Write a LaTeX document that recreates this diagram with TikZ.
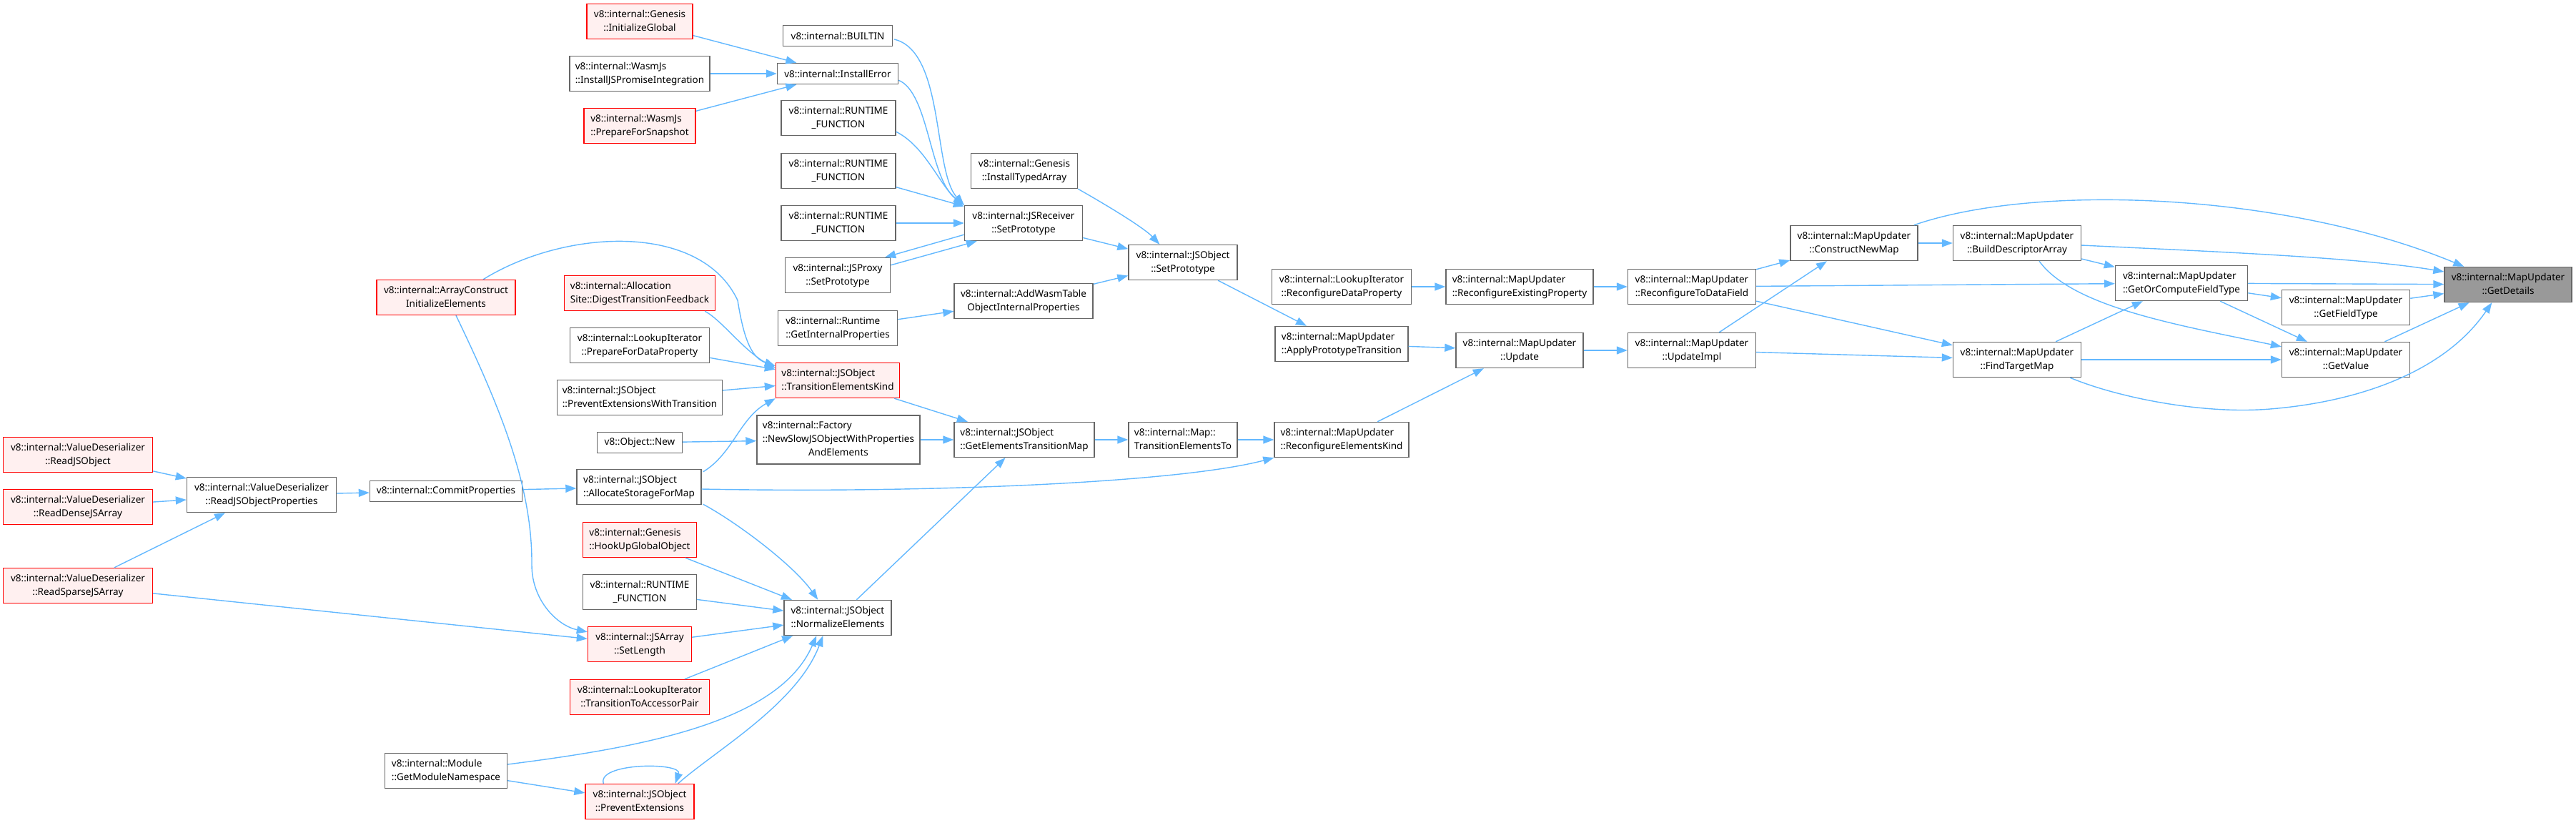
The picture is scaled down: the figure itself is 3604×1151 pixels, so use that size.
\documentclass[tikz,border=0pt]{standalone}
\usepackage{fontspec}
\setmainfont{Noto Sans}
\usetikzlibrary{arrows.meta,calc}
\definecolor{callblue}{RGB}{99,184,255}
\definecolor{boxline}{RGB}{102,102,102}
\definecolor{rootgray}{RGB}{153,153,153}
\definecolor{redfill}{RGB}{255,240,240}
\definecolor{redline}{RGB}{255,0,0}
\newcommand{\fnl}[2]{\begin{tabular}{@{}l@{}}#1\\\multicolumn{1}{@{}c@{}}{#2}\end{tabular}}

\begin{document}
\begin{tikzpicture}[x=1pt,y=-1pt,>={Triangle[length=15pt,width=11pt]},
    fn/.style={draw=boxline,fill=white,line width=1.4pt,inner xsep=4pt,inner ysep=2pt,minimum height=49pt,font=\fontsize{13.5}{19}\selectfont},
    fnone/.style={fn,minimum height=29pt},
    fnred/.style={fn,draw=redline,fill=redfill},
    fnroot/.style={fn,fill=rootgray},
    call/.style={->,draw=callblue,line width=1.4pt}]
  \useasboundingbox (0,0) rectangle (3604,1151);
  \node[fnred,minimum width=209pt] (rdObj) at (109,636) {\fnl{v8::internal::ValueDeserializer}{::ReadJSObject}};
  \node[fnred,minimum width=209pt] (rdDense) at (109,709) {\fnl{v8::internal::ValueDeserializer}{::ReadDenseJSArray}};
  \node[fnred,minimum width=209pt] (rdSparse) at (109,819) {\fnl{v8::internal::ValueDeserializer}{::ReadSparseJSArray}};
  \node[fn,minimum width=209pt] (rdProps) at (366,692) {\fnl{v8::internal::ValueDeserializer}{::ReadJSObjectProperties}};
  \node[fnred,minimum width=194pt] (arrCons) at (624,416) {\fnl{v8::internal::ArrayConstruct}{InitializeElements}};
  \node[fnone,minimum width=213pt] (commit) at (624,687) {v8::internal::CommitProperties};
  \node[fn,minimum width=171pt] (modNs) at (624,1078) {\fnl{v8::internal::Module}{::GetModuleNamespace}};
  \node[fnred,minimum width=148pt] (initGlobal) at (895,30) {\fnl{v8::internal::Genesis}{::InitializeGlobal}};
  \node[fn,minimum width=196pt] (promInt) at (895,103) {\fnl{v8::internal::WasmJs}{::InstallJSPromiseIntegration}};
  \node[fnred,minimum width=156pt] (prepSnap) at (895,176) {\fnl{v8::internal::WasmJs}{::PrepareForSnapshot}};
  \node[fnred,minimum width=211pt] (allocSite) at (895,410) {\fnl{v8::internal::Allocation}{Site::DigestTransitionFeedback}};
  \node[fn,minimum width=195pt] (prepData) at (895,483) {\fnl{v8::internal::LookupIterator}{::PrepareForDataProperty}};
  \node[fn,minimum width=231pt] (prevExtT) at (895,556) {\fnl{v8::internal::JSObject}{::PreventExtensionsWithTransition}};
  \node[fnone,minimum width=119pt] (objNew) at (895,619) {v8::Object::New};
  \node[fn,minimum width=174pt] (allocStore) at (894,681) {\fnl{v8::internal::JSObject}{::AllocateStorageForMap}};
  \node[fnred,minimum width=159pt] (hookUp) at (895,755) {\fnl{v8::internal::Genesis}{::HookUpGlobalObject}};
  \node[fn,minimum width=159pt] (rf4) at (895,828) {\fnl{v8::internal::RUNTIME}{\_FUNCTION}};
  \node[fnred,minimum width=145pt] (setLen) at (895,901) {\fnl{v8::internal::JSArray}{::SetLength}};
  \node[fnred,minimum width=195pt] (toAcc) at (895,975) {\fnl{v8::internal::LookupIterator}{::TransitionToAccessorPair}};
  \node[fnred,minimum width=152pt] (prevExt) at (895,1121) {\fnl{v8::internal::JSObject}{::PreventExtensions}};
  \node[fnone,minimum width=153pt] (builtin) at (1172,50) {v8::internal::BUILTIN};
  \node[fnone,minimum width=169pt] (instErr) at (1172,103) {v8::internal::InstallError};
  \node[fn,minimum width=160pt] (rf1) at (1173,165) {\fnl{v8::internal::RUNTIME}{\_FUNCTION}};
  \node[fn,minimum width=160pt] (rf2) at (1173,239) {\fnl{v8::internal::RUNTIME}{\_FUNCTION}};
  \node[fn,minimum width=160pt] (rf3) at (1173,312) {\fnl{v8::internal::RUNTIME}{\_FUNCTION}};
  \node[fn,minimum width=147pt] (proxySet) at (1172,385) {\fnl{v8::internal::JSProxy}{::SetPrototype}};
  \node[fn,minimum width=167pt] (getIntProps) at (1172,459) {\fnl{v8::internal::Runtime}{::GetInternalProperties}};
  \node[fnred,minimum width=173pt] (transKind) at (1172,532) {\fnl{v8::internal::JSObject}{::TransitionElementsKind}};
  \node[fn,minimum width=228pt,minimum height=68pt] (factory) at (1173,615) {\fnl{v8::internal::Factory\\::NewSlowJSObjectWithProperties}{AndElements}};
  \node[fn,minimum width=150pt] (normElem) at (1172,864) {\fnl{v8::internal::JSObject}{::NormalizeElements}};
  \node[fn,minimum width=149pt] (typedArr) at (1433,239) {\fnl{v8::internal::Genesis}{::InstallTypedArray}};
  \node[fn,minimum width=165pt] (recvSet) at (1432,312) {\fnl{v8::internal::JSReceiver}{::SetPrototype}};
  \node[fn,minimum width=194pt] (addWasm) at (1432,421) {\fnl{v8::internal::AddWasmTable}{ObjectInternalProperties}};
  \node[fn,minimum width=196pt] (getElemMap) at (1433,615) {\fnl{v8::internal::JSObject}{::GetElementsTransitionMap}};
  \node[fn,minimum width=152pt] (objSet) at (1655,367) {\fnl{v8::internal::JSObject}{::SetPrototype}};
  \node[fn,minimum width=152pt] (mapTrans) at (1655,615) {\fnl{v8::internal::Map::}{TransitionElementsTo}};
  \node[fn,minimum width=195pt] (reconfData) at (1877,401) {\fnl{v8::internal::LookupIterator}{::ReconfigureDataProperty}};
  \node[fn,minimum width=186pt] (applyProto) at (1877,481) {\fnl{v8::internal::MapUpdater}{::ApplyPrototypeTransition}};
  \node[fn,minimum width=188pt] (reconfElem) at (1877,615) {\fnl{v8::internal::MapUpdater}{::ReconfigureElementsKind}};
  \node[fn,minimum width=206pt] (reconfExist) at (2126,401) {\fnl{v8::internal::MapUpdater}{::ReconfigureExistingProperty}};
  \node[fn,minimum width=178pt] (update) at (2126,490) {\fnl{v8::internal::MapUpdater}{::Update}};
  \node[fn,minimum width=179pt] (toDataField) at (2367,401) {\fnl{v8::internal::MapUpdater}{::ReconfigureToDataField}};
  \node[fn,minimum width=179pt] (updImpl) at (2367,490) {\fnl{v8::internal::MapUpdater}{::UpdateImpl}};
  \node[fn,minimum width=178pt] (constructMap) at (2594,340) {\fnl{v8::internal::MapUpdater}{::ConstructNewMap}};
  \node[fn,minimum width=179pt] (buildDesc) at (2822,340) {\fnl{v8::internal::MapUpdater}{::BuildDescriptorArray}};
  \node[fn,minimum width=179pt] (findTarget) at (2822,503) {\fnl{v8::internal::MapUpdater}{::FindTargetMap}};
  \node[fn,minimum width=185pt] (getOrCompute) at (3052,396) {\fnl{v8::internal::MapUpdater}{::GetOrComputeFieldType}};
  \node[fn,minimum width=179pt] (getFieldType) at (3282,430) {\fnl{v8::internal::MapUpdater}{::GetFieldType}};
  \node[fn,minimum width=179pt] (getValue) at (3282,503) {\fnl{v8::internal::MapUpdater}{::GetValue}};
  \node[fnroot,minimum width=178pt] (getDetails) at (3509,398) {\fnl{v8::internal::MapUpdater}{::GetDetails}};

  \draw[call] (initGlobal)--(instErr); \draw[call] (promInt)--(instErr); \draw[call] (prepSnap)--(instErr);
  \draw[call] ($(builtin.east)+(2,5)$) .. controls (1322,72) and (1305,240) .. (recvSet.north west);
  \draw[call] ($(instErr.south east)+(0,-6)$) .. controls (1300,130) and (1300,250) .. (recvSet.north west);
  \draw[call] ($(rf1.south east)+(0,-6)$) .. controls (1295,205) and (1315,260) .. (recvSet.north west);
  \draw[call] (rf2)--(recvSet); \draw[call] (rf3)--(recvSet);
  \draw[call] ($(recvSet.south west)+(0,-9)$)--($(proxySet.north east)+(-8,0)$);
  \draw[call] ($(proxySet.north east)+(0,11)$)--($(recvSet.south west)+(18,0)$);
  \draw[call] (recvSet)--(objSet); \draw[call] (addWasm)--(objSet); \draw[call] (getIntProps)--(addWasm);
  \draw[call] (typedArr.south east) .. controls (1545,285) and (1600,318) .. ($(objSet.north west)+(44,0)$);
  \draw[call] (objSet)--(applyProto);
  \draw[call] ($(arrCons.north)+(52,0)$) .. controls (790,320) and (980,310) .. (1032,420) .. controls (1040,470) and (1050,500) .. ($(transKind.north west)+(0,5)$);
  \draw[call] ($(allocSite.south east)+(-15,0)$) .. controls (1010,448) and (1040,490) .. ($(transKind.north west)+(0,8)$);
  \draw[call] (prepData)--(transKind); \draw[call] (prevExtT)--(transKind);
  \draw[call] ($(allocStore.north east)+(2,4)$) .. controls (1025,635) and (1035,585) .. (transKind.south west);
  \draw[call] (transKind)--(getElemMap); \draw[call] (objNew)--(factory); \draw[call] (factory)--(getElemMap);
  \draw[call] (getElemMap)--(mapTrans); \draw[call] (mapTrans)--(reconfElem); \draw[call] (normElem)--(getElemMap);
  \draw[call] ($(allocStore.east)+(0,3)$) .. controls (1300,690) and (1650,675) .. (reconfElem.south west);
  \draw[call] (rdObj)--(rdProps); \draw[call] (rdDense)--(rdProps); \draw[call] (rdSparse)--(rdProps);
  \draw[call] (rdSparse)--(setLen); \draw[call] (rdProps)--(commit); \draw[call] (commit)--(allocStore);
  \draw[call] ($(arrCons.south)+(14,0)$) .. controls (700,570) and (745,680) .. (744,790) .. controls (744,840) and (780,875) .. ($(setLen.north west)+(0,8)$);
  \draw[call] ($(allocStore.south east)+(2,-1)$) .. controls (1030,730) and (1110,790) .. ($(normElem.north west)+(48,0)$);
  \draw[call] (hookUp)--(normElem); \draw[call] (rf4)--(normElem); \draw[call] (setLen)--(normElem); \draw[call] (toAcc)--(normElem);
  \draw[call] ($(modNs.east)+(0,-9)$) .. controls (900,1045) and (1090,1010) .. ($(normElem.south west)+(46,0)$);
  \draw[call] (modNs)--(prevExt);
  \draw[call] ($(prevExt.north west)+(26,0)$) .. controls (835,1066) and (955,1066) .. ($(prevExt.north east)+(-27,0)$);
  \draw[call] ($(prevExt.north east)+(-23,0)$) .. controls (1000,1050) and (1115,985) .. ($(normElem.south west)+(55,0)$);
  \draw[call] (reconfData)--(reconfExist); \draw[call] (reconfExist)--(toDataField);
  \draw[call] (applyProto)--(update); \draw[call] (reconfElem)--(update); \draw[call] (update)--(updImpl);
  \draw[call] (toDataField)--(constructMap); \draw[call] (updImpl)--(constructMap);
  \draw[call] (toDataField)--(getOrCompute); \draw[call] (toDataField)--(findTarget); \draw[call] (updImpl)--(findTarget);
  \draw[call] (constructMap)--(buildDesc);
  \draw[call] ($(constructMap.north east)+(-6,0)$) .. controls (2850,255) and (3200,270) .. ($(getDetails.north west)+(28,0)$);
  \draw[call] ($(buildDesc.east)+(0,3)$) .. controls (3100,352) and (3300,360) .. ($(getDetails.west)+(0,-18)$);
  \draw[call] (buildDesc)--(getOrCompute);
  \draw[call] ($(buildDesc.south)+(31,0)$) .. controls (2900,430) and (3050,455) .. ($(getValue.north west)+(0,7)$);
  \draw[call] (getOrCompute)--(getDetails); \draw[call] (getOrCompute)--(getFieldType); \draw[call] (getOrCompute)--(getValue);
  \draw[call] (getFieldType)--(getDetails); \draw[call] (getValue)--(getDetails);
  \draw[call] (findTarget)--(getOrCompute); \draw[call] (findTarget)--(getValue);
  \draw[call] ($(findTarget.south east)+(-16,0)$) .. controls (2960,555) and (3080,580) .. (3176,572) .. controls (3300,562) and (3420,520) .. ($(getDetails.south west)+(67,0)$);
\end{tikzpicture}
\end{document}
